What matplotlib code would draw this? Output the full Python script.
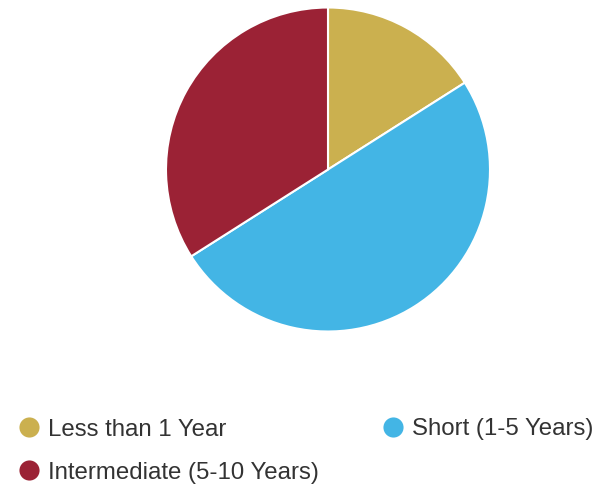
import matplotlib
matplotlib.use("Agg")
import matplotlib.pyplot as plt
from matplotlib.lines import Line2D

categories = ["Less than 1 Year", "Short (1-5 Years)", "Intermediate (5-10 Years)"]
values = [16, 50, 34]
colors = ["#CBB04F", "#43B5E5", "#9B2235"]

plt.rcParams['font.family'] = ['Liberation Sans', 'DejaVu Sans']

fig = plt.figure(figsize=(6, 4.88), dpi=100)
fig.patch.set_facecolor("white")

cx, cy, r = 328, 169.5, 162
W, H = 600, 488
ax = fig.add_axes([(cx - r) / W, 1 - (cy + r) / H, 2 * r / W, 2 * r / H])
ax.pie(values, colors=colors, startangle=90, counterclock=False, radius=1,
       wedgeprops=dict(edgecolor="white", linewidth=1.5))
ax.set_xlim(-1.0, 1.0)
ax.set_ylim(-1.0, 1.0)
ax.set_aspect("equal")
ax.axis("off")

# legend: two columns
positions = [(29, 427), (393, 427), (29, 470)]
for (x, y), lab, col in zip(positions, categories, colors):
    fig.add_artist(Line2D([x / W], [1 - y / H], marker="o", markersize=14.5,
                          color=col, markeredgewidth=0, transform=fig.transFigure))
    fig.text((x + 19) / W, 1 - y / H, lab, fontsize=17.3, color="#333333",
             va="center_baseline", ha="left")

fig.savefig("out.png", dpi=100, facecolor="white")
